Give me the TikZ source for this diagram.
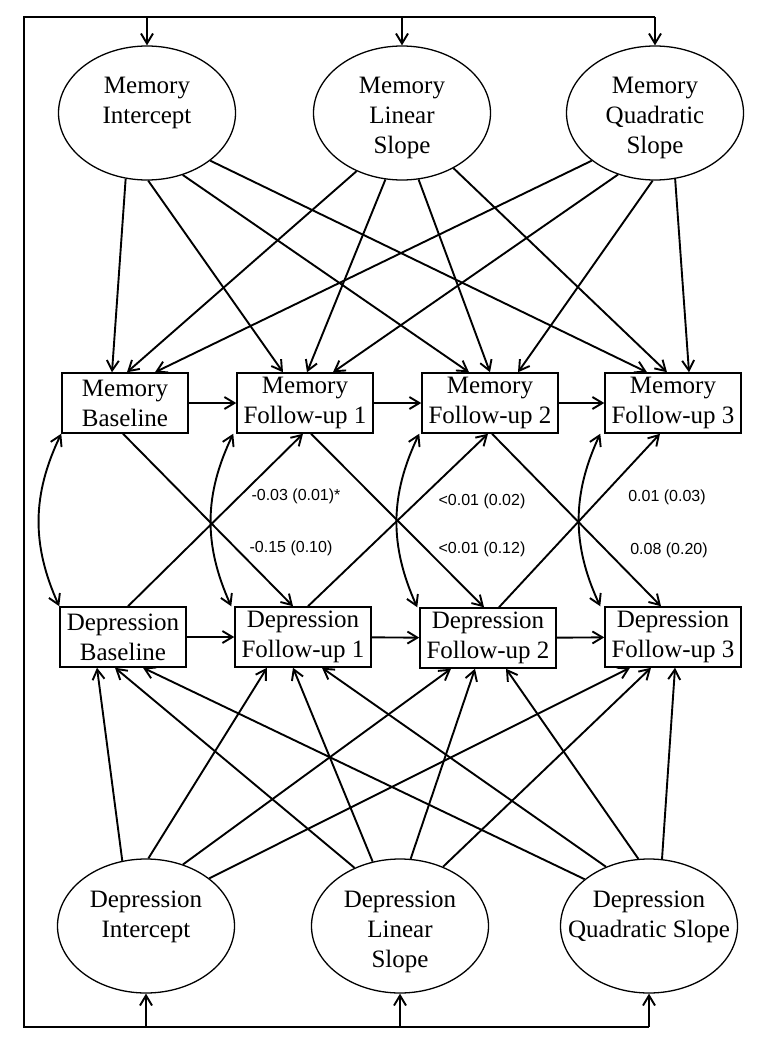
\documentclass[tikz,border=0pt]{standalone}
\usepackage{fontspec}
\setmainfont{Liberation Serif}
\setsansfont{Liberation Sans}
\usepackage{tikz}
\usetikzlibrary{arrows.meta, shapes}

\begin{document}
\begin{tikzpicture}[x=1pt, y=-1pt, >={Straight Barb[length=10pt,width=12pt]},
  latent/.style={draw, ellipse, minimum width=177, minimum height=134, inner sep=0pt, line width=1.3pt},
  lattext/.style={align=center, font=\fontsize{25}{30}\selectfont},
  obs/.style={draw, rectangle, minimum height=60, inner sep=2pt, align=center, line width=1.5pt, font=\fontsize{25}{30}\selectfont},
  reg/.style={->, line width=1.9pt},
  cov/.style={<->, line width=1.9pt},
  coef/.style={font=\sffamily\fontsize{16}{19}\selectfont}]
\useasboundingbox (0,0) rectangle (769,1049);

% Growth factors
\node[latent] (mi) at (147,113) {};
\node[latent] (ml) at (402,113) {};
\node[latent] (mq) at (655,113) {};
\node[lattext] (mi-t) at (147,103) {Memory\\Intercept};
\node[lattext] (ml-t) at (402,118) {Memory\\Linear\\Slope};
\node[lattext] (mq-t) at (655,118) {Memory\\Quadratic\\Slope};

\node[latent] (di) at (146,926) {};
\node[latent] (dl) at (400,926) {};
\node[latent] (dq) at (649,926) {};
\node[lattext] (di-t) at (146,917) {Depression\\Intercept};
\node[lattext] (dl-t) at (400,932) {Depression\\Linear\\Slope};
\node[lattext] (dq-t) at (649,917) {Depression\\Quadratic Slope};

% Measurement occasions
\node[obs, minimum width=126] (mb) at (125,403) {Memory\\Baseline};
\node[obs, minimum width=136] (mf1) at (305,403) {Memory\\Follow-up 1};
\node[obs, minimum width=136] (mf2) at (490,403) {Memory\\Follow-up 2};
\node[obs, minimum width=136] (mf3) at (673,403) {Memory\\Follow-up 3};
\node[obs, minimum width=126] (db) at (123,637) {Depression\\Baseline};
\node[obs, minimum width=136] (df1) at (303,637) {Depression\\Follow-up 1};
\node[obs, minimum width=136] (df2) at (488,638) {Depression\\Follow-up 2};
\node[obs, minimum width=136] (df3) at (673,637) {Depression\\Follow-up 3};

% Factor correlations (outer frame)
\coordinate (tl) at (24,17);
\coordinate (bl) at (24,1027);
\draw[line width=1.9pt] (mq.north |- tl) -- (tl) -- (bl) -- (dq.south |- bl);
\foreach \n in {mi,ml,mq}
    \draw[reg] (\n.north |- tl) -- (\n.north);
\foreach \n in {di,dl,dq}
    \draw[reg] (\n.south |- bl) -- (\n.south);

% Loadings of memory factors
\foreach \f/\a/\t/\d in {mi/252/mb/-13, mi/271/mf1/-22, mi/300/mf2/-21, mi/323/mf3/-26,
    ml/232/mb/2, ml/256/mf1/2, ml/284/mf2/0, ml/313/mf3/-6,
    mq/217/mb/30, mq/239/mf1/28, mq/268/mf2/28, mq/287/mf3/16}
    \draw[reg] (\f.\a) -- ([xshift=\d pt]\t.north);

% Loadings of depression factors
\foreach \f/\a/\t/\d in {di/110/db/-26, di/88/df1/-36, di/59/df2/-37, di/37/df3/-43,
    dl/128/db/-8, dl/113/df1/-10, dl/81/df2/-13, dl/54/df3/-22,
    dq/144/db/20, dq/126/df1/19, dq/99/df2/18, dq/79/df3/2}
    \draw[reg] (\f.\a) -- ([xshift=\d pt]\t.south);

% Autoregressive paths
\draw[reg] (mb) -- (mf1);
\draw[reg] (mf1) -- (mf2);
\draw[reg] (mf2) -- (mf3);
\draw[reg] (db) -- (df1);
\draw[reg] (df1) -- (df2);
\draw[reg] (df2) -- (df3);

% Cross-lagged paths
\draw[reg] ([xshift=-2pt]mb.south) -- ([xshift=-10pt]df1.north);
\draw[reg] ([xshift=5pt]db.north) -- ([xshift=-2pt]mf1.south);
\draw[reg] ([xshift=6pt]mf1.south) -- ([xshift=-4pt]df2.north);
\draw[reg] ([xshift=5pt]df1.north) -- ([xshift=-2pt]mf2.south);
\draw[reg] ([xshift=2pt]mf2.south) -- ([xshift=-12pt]df3.north);
\draw[reg] ([xshift=11pt]df2.north) -- ([xshift=-13pt]mf3.south);

% Residual covariances
\foreach \m/\e/\s in {mb/db/0, mf1/df1/-3, mf2/df2/-2, mf3/df3/-4}
    \draw[cov] ([xshift=\s pt]\m.south west) to[bend right=25] ([xshift=\s pt]\e.north west);

% Coefficients
\node[coef] (c1) at (296,496) {-0.03 (0.01)*};
\node[coef] (c2) at (291,548) {-0.15 (0.10)};
\node[coef] (c3) at (482,501) {<0.01 (0.02)};
\node[coef] (c4) at (482,549) {<0.01 (0.12)};
\node[coef] (c5) at (667,497) {0.01 (0.03)};
\node[coef] (c6) at (669,550) {0.08 (0.20)};
\end{tikzpicture}
\end{document}
